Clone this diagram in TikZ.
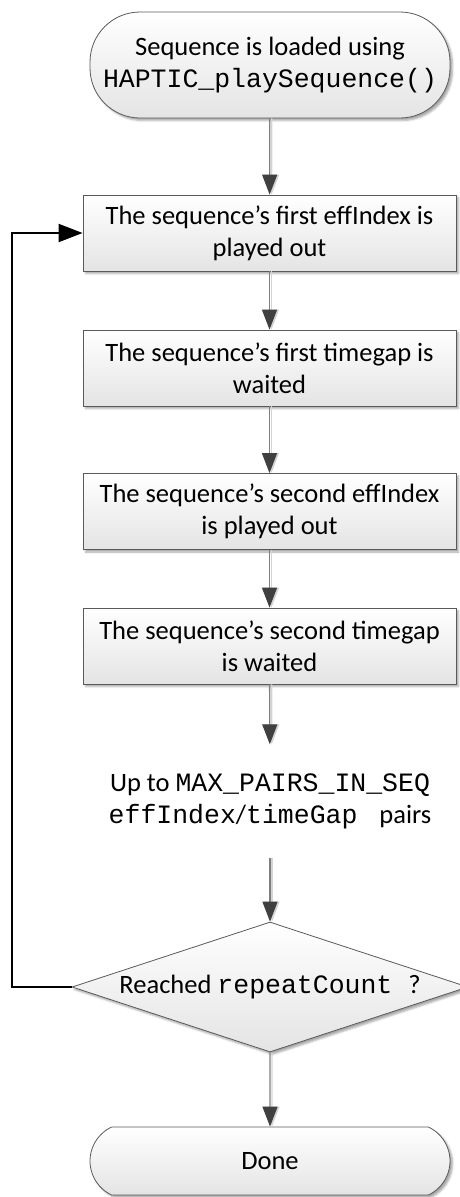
\documentclass[tikz,border=0pt]{standalone}
\usepackage{fontspec}
\setmainfont{Carlito}
\newfontfamily\mono{Liberation Mono}
\usetikzlibrary{arrows.meta,shapes.geometric,shapes.misc,shadows.blur}
\definecolor{edgegray}{HTML}{5A5A5A}
\definecolor{linegray}{HTML}{7F7F7F}
\definecolor{shadegray}{HTML}{D4D4D4}
\definecolor{tipgray}{HTML}{404040}
\definecolor{fillbot}{HTML}{E4E4E4}
\begin{document}
\begin{tikzpicture}[x=1pt,y=-1pt,
  txt/.style={font=\fontsize{26.5}{32}\selectfont, align=center, inner sep=0pt},
  shaded/.style={draw=edgegray, line width=0.8pt, top color=white, bottom color=fillbot,
    blur shadow={shadow xshift=2.5pt, shadow yshift=-2.5pt, shadow blur steps=4, shadow opacity=35}},
  stepbox/.style={txt, shaded, rectangle, minimum width=373pt, minimum height=76pt},
  term/.style={txt, shaded, rectangle, rounded corners=50pt, minimum width=360pt, minimum height=106pt},
  termb/.style={txt, shaded, rounded rectangle, rounded rectangle arc length=130, minimum width=360pt, minimum height=68pt},
  decision/.style={txt, shaded, diamond, aspect=3.05, minimum width=396pt, minimum height=130pt},
  flow/.style={draw=linegray, line width=1.3pt, -{Triangle[length=20pt,width=15pt,color=tipgray]}},
  flowshade/.style={draw=shadegray, line width=1.3pt, transform canvas={xshift=2pt}, -{Triangle[length=20pt,width=15pt,color=shadegray]}},
  loopback/.style={draw=black, line width=2pt, -{Triangle[length=24pt,width=18pt]}}
]
\useasboundingbox (0,0) rectangle (459,1197);

\node[term] (start) at (270,65) {Sequence is loaded using\\{\mono HAPTIC\_playSequence()}};
\node[stepbox] (b1) at (269.5,233) {The sequence’s first effIndex is\\played out};
\node[stepbox] (b2) at (269.5,368) {The sequence’s first timegap is\\waited};
\node[stepbox] (b3) at (269.5,511.5) {The sequence’s second effIndex\\is played out};
\node[stepbox] (b4) at (269.5,646) {The sequence’s second timegap\\is waited};
\node[txt, minimum height=113pt] (pairs) at (270,801) {Up to {\mono MAX\_PAIRS\_IN\_SEQ}\\{\mono effIndex}/{\mono timeGap\ } pairs};
\node[decision] (dec) at (270,987) {Reached {\mono repeatCount\ }?};
\node[termb] (done) at (270,1161) {Done};

\foreach \a/\b in {start/b1, b1/b2, b2/b3, b3/b4, b4/pairs, pairs/dec, dec/done}{
  \draw[flowshade] (\a) -- (\b);
  \draw[flow] (\a) -- (\b);
}
\draw[loopback] (dec.west) -- ++(-60,0) |- (b1.west);
\end{tikzpicture}
\end{document}
